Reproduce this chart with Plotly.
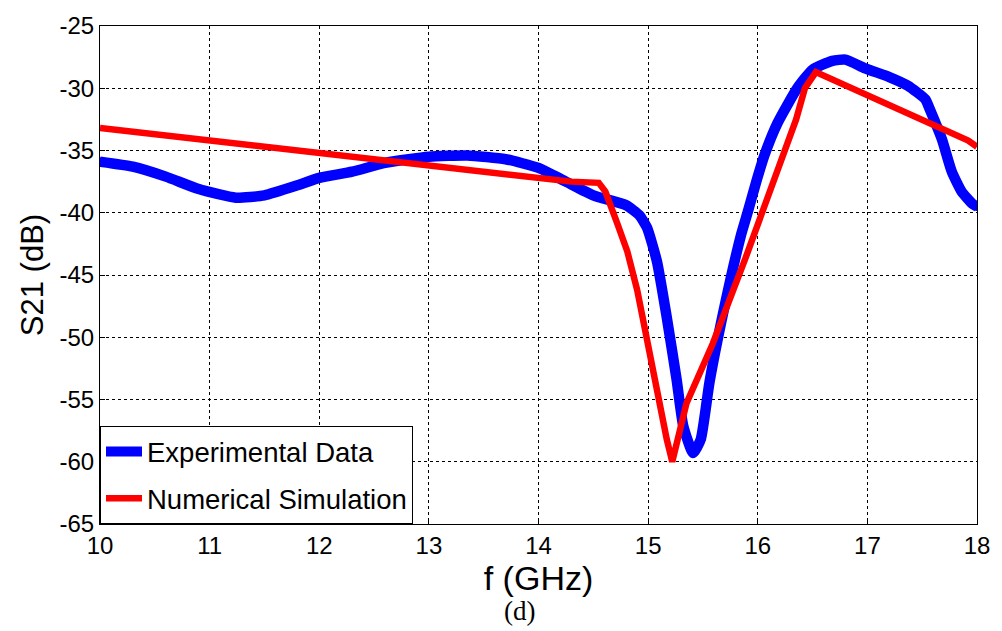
import plotly.graph_objects as go

# Measured transmission |S21| in dB versus frequency
exp_f = [10.0, 10.3, 10.6, 10.9, 11.24, 11.5, 11.8, 12.0, 12.3, 12.6, 13.0, 13.35,
         13.7, 14.0, 14.25, 14.5, 14.8, 14.92, 14.99, 15.08, 15.17, 15.26, 15.32,
         15.41, 15.48, 15.56, 15.71, 15.85, 15.91, 15.99, 16.06, 16.18, 16.36,
         16.50, 16.68, 16.80, 16.98, 17.2, 17.37, 17.53, 17.57, 17.68, 17.77,
         17.86, 17.96, 18.0]
exp_s21 = [-35.9, -36.3, -37.1, -38.1, -38.8, -38.6, -37.8, -37.2, -36.7, -36.0,
           -35.5, -35.4, -35.7, -36.4, -37.5, -38.6, -39.4, -40.2, -41.2, -43.9,
           -48.4, -53.4, -57.1, -59.3, -58.2, -53.6, -47.0, -41.7, -39.9, -37.4,
           -35.4, -32.8, -30.0, -28.5, -27.8, -27.7, -28.4, -29.1, -29.8, -30.9,
           -31.7, -34.1, -36.7, -38.3, -39.3, -39.5]

# Simulated transmission |S21| in dB versus frequency
sim_f = [10.0, 14.3, 14.55, 14.61, 14.72, 14.81, 14.90, 14.99, 15.08, 15.17,
         15.22, 15.35, 15.59, 15.89, 16.22, 16.35, 16.43, 16.53, 17.92, 18.0]
sim_s21 = [-33.2, -37.5, -37.6, -38.3, -40.9, -43.1, -46.2, -50.5, -54.2, -58.2,
           -60.0, -55.3, -50.5, -43.6, -35.5, -32.5, -30.0, -28.7, -34.2, -34.7]

x_ticks = [10, 11, 12, 13, 14, 15, 16, 17, 18]
y_ticks = [-25, -30, -35, -40, -45, -50, -55, -60, -65]

FONT = "Liberation Sans, Arial, sans-serif"

fig = go.Figure()
fig.add_trace(go.Scatter(
    x=exp_f, y=exp_s21, name="Experimental Data", legendgroup="exp",
    mode="lines+markers",
    line=dict(color="#0000ff", width=10.5, shape="spline", smoothing=0.5),
    marker=dict(color="#0000ff", size=9),
))
fig.add_trace(go.Scatter(
    x=sim_f, y=sim_s21, name="Numerical Simulation", legendgroup="sim",
    mode="lines",
    line=dict(color="#ff0000", width=6.5),
))

axis_common = dict(
    showline=True, linecolor="black", linewidth=1, mirror=True,
    showgrid=True, gridcolor="black", gridwidth=1, griddash="dot",
    zeroline=False, ticks="inside", ticklen=5, tickcolor="black",
    tickfont=dict(family=FONT, size=24, color="black"),
)

fig.update_layout(
    width=1002, height=631,
    margin=dict(l=100, r=20, t=23, b=107),
    paper_bgcolor="white", plot_bgcolor="white",
    font=dict(family=FONT, color="black"),
    xaxis=dict(range=[10, 18], tickvals=x_ticks,
               ticktext=[str(v) for v in x_ticks],
               title=dict(text="f (GHz)", font=dict(family=FONT, size=34), standoff=0),
               **axis_common),
    yaxis=dict(range=[-65, -25], tickvals=y_ticks,
               ticktext=[str(v) for v in y_ticks],
               title=dict(text="S21 (dB)", font=dict(family=FONT, size=31), standoff=6),
               **axis_common),
    legend=dict(x=0, y=0, xanchor="left", yanchor="bottom",
                bordercolor="black", borderwidth=1, bgcolor="white",
                font=dict(family=FONT, size=27.5, color="black"),
                itemwidth=36, tracegroupgap=8),
    showlegend=True,
    annotations=[dict(text="(d)", x=0.478, y=-0.14, xref="paper", yref="paper",
                      showarrow=False, yanchor="top",
                      font=dict(family="Liberation Serif, Times New Roman, serif",
                                size=27, color="black"))],
)

fig.write_html("out.html")
